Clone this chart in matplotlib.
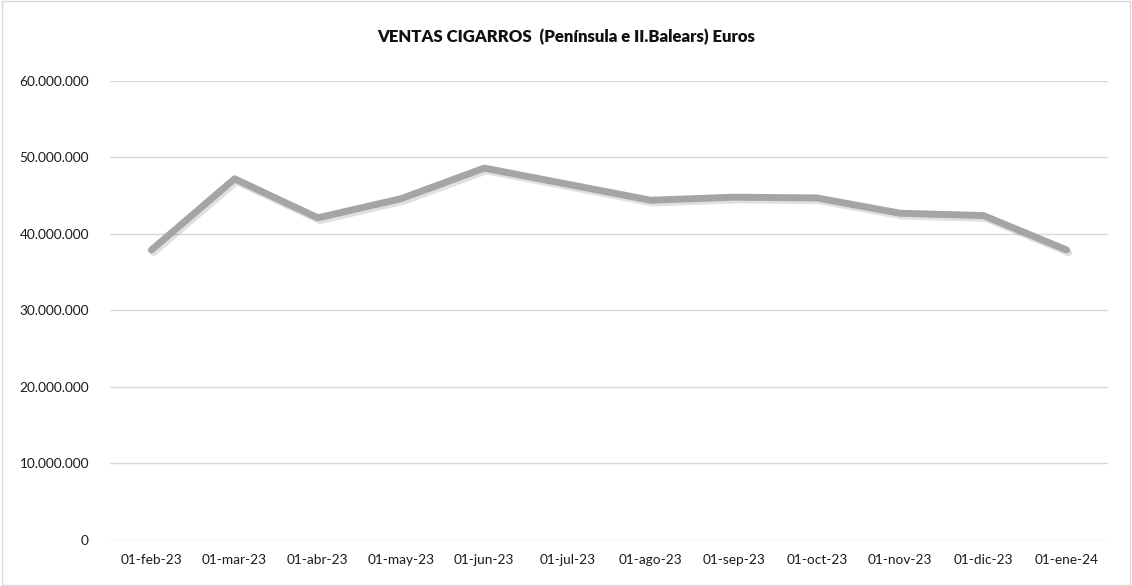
import matplotlib
matplotlib.use("Agg")
import matplotlib.pyplot as plt
import matplotlib.patheffects as pe
from matplotlib.ticker import FuncFormatter
from matplotlib.patches import Rectangle

plt.rcParams['font.family'] = ['Lato', 'DejaVu Sans']

months = ["01-feb-23", "01-mar-23", "01-abr-23", "01-may-23", "01-jun-23", "01-jul-23",
          "01-ago-23", "01-sep-23", "01-oct-23", "01-nov-23", "01-dic-23", "01-ene-24"]
ventas = [37_900_000, 47_200_000, 42_100_000, 44_600_000, 48_600_000, 46_500_000,
          44_400_000, 44_800_000, 44_700_000, 42_700_000, 42_400_000, 37_900_000]
yticks = [0, 10_000_000, 20_000_000, 30_000_000, 40_000_000, 50_000_000, 60_000_000]
title = "VENTAS CIGARROS  (Península e II.Balears) Euros"

fig = plt.figure(figsize=(11.32, 5.86), dpi=100)
ax = fig.add_axes([0.097, 0.0785, 0.882, 0.7835])

x = list(range(len(months)))
ax.plot(x, ventas, color="#A5A5A5", linewidth=5.0, solid_capstyle="round",
        solid_joinstyle="round", zorder=3,
        path_effects=[pe.SimpleLineShadow(offset=(1.5, -2), shadow_color="#000000", alpha=0.12),
                      pe.Normal()])

ax.set_xlim(-0.5, len(months) - 0.5)
ax.set_ylim(0, 60_000_000)
ax.set_yticks(yticks)
ax.yaxis.set_major_formatter(FuncFormatter(lambda v, p: f"{int(v):,}".replace(",", ".")))
ax.set_xticks(x)
ax.set_xticklabels(months)
ax.grid(axis="y", color="#D9D9D9", linewidth=1.0)
ax.set_axisbelow(True)
for s in ax.spines.values():
    s.set_visible(False)
ax.tick_params(axis="both", length=0, labelsize=9.8, colors="#1a1a1a")
ax.tick_params(axis="y", pad=15)
ax.tick_params(axis="x", pad=10)

fig.text(0.5, 0.937, title, ha="center", va="center", fontsize=12.1, fontweight="heavy",
         family=['Lato', 'DejaVu Sans'], color="#111111")

fig.patches.append(Rectangle((0.002, 0.002), 0.996, 0.996, transform=fig.transFigure,
                             fill=False, edgecolor="#D9D9D9", linewidth=1.0))

fig.savefig("out.png", dpi=100)
